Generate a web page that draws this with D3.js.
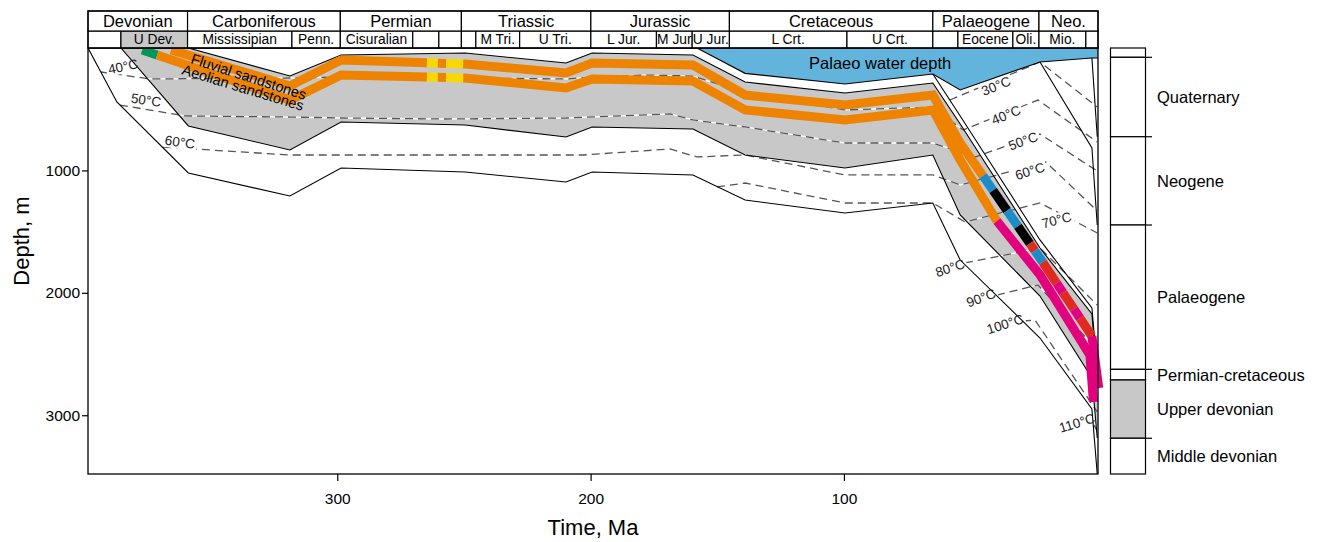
<!DOCTYPE html>
<html><head><meta charset="utf-8">
<script src="https://cdn.jsdelivr.net/npm/d3@7"></script>
<style>
body{margin:0;background:#fff;}
svg{display:block;font-family:"Liberation Sans",Arial,Helvetica,sans-serif;}
</style></head><body>
<svg id="c" width="1320" height="542"></svg>
<script>
// ================= DATA (time in Ma, depth in m) =================
const periods = [["Devonian",398.4,359.1],["Carboniferous",359.1,298.8],["Permian",298.8,251.0],
  ["Triassic",251.0,199.9],["Jurassic",199.9,145.2],["Cretaceous",145.2,64.9],
  ["Palaeogene",64.9,23.0],["Neo.",23.0,-0.3]];
const epochs = [["",398.4,385.4],["U Dev.",385.4,359.1],["Mississipian",359.1,317.9],["Penn.",317.9,298.8],
  ["Cisuralian",298.8,270.2],["",270.2,259.9],["",259.9,251.0],["",251.0,245.3],["M Tri.",245.3,228.0],
  ["U Tri.",228.0,199.9],["L Jur.",199.9,174.0],["M Jur",174.0,159.9],["U Jur.",159.9,145.2],
  ["L Crt.",145.2,98.8],["U Crt.",98.8,64.9],["",64.9,55.0],["Eocene",55.0,33.3],["Oli.",33.3,23.0],
  ["Mio.",23.0,4.5],["",4.5,-0.3]];
const shadedEpochs = ["U Dev."];
const xTicks = [300,200,100];
const yTicks = [1000,2000,3000];

// burial curves [time, depth]
const middleDevonianBase = [[398.4,0],[387.0,441],[358.8,1021],[318.7,1209],[298.5,980],[249.5,1013],[209.7,1095],[199.4,1013],[159.6,1037],[139.0,1242],[99.6,1348],[64.9,1266],[54.1,1732],[22.6,2369],[2.1,2949],[0,3480]];
const upperDevonianBase = [[385.4,0],[358.8,637],[318.7,833],[298.5,605],[249.5,629],[209.7,727],[199.4,645],[159.6,662],[139.0,874],[99.6,980],[64.9,874],[54.1,1364],[22.6,2026],[2.1,2696],[0,3186]];
const upperDevonianTop = [[385.4,0],[358.8,0],[318.7,229],[298.5,57],[249.5,41],[209.7,123],[199.4,41],[159.6,57],[139.0,278],[99.6,368],[64.9,286],[54.1,621],[22.6,1634],[2.1,2173],[0,2712]];
const permCretTop = [[64.9,212],[54.1,555],[22.6,1568],[2.1,2124],[0,2622]];
const palaeogeneTop = [[22.6,114],[2.1,817],[0,1446]];
const neogeneTop = [[2.1,82],[0,725]];
const waterDepth = [[158.0,0],[139.0,207],[99.6,294],[64.9,212],[54.1,343],[22.6,114],[2.1,82],[-0.3,82]];

// isotherms [time, depth]
const iso30 = [[58.2,425],[22.6,114],[0,482]];
const iso40 = [[393.3,196],[373.9,253],[318.7,245],[298.5,237],[249.5,245],[209.7,253],[199.0,237],[177.7,221],[159.6,229],[139.0,368],[99.6,506],[64.9,482],[53.0,670],[23.4,425],[0,768]];
const iso50 = [[385.8,466],[360.1,555],[318.7,564],[298.5,572],[257.4,580],[209.7,572],[168.6,539],[159.6,588],[139.0,645],[99.6,776],[64.9,776],[48.2,890],[22.6,703],[0,1005]];
const iso60 = [[368.8,809],[318.7,874],[257.4,874],[203.0,874],[168.6,825],[158.0,890],[139.0,874],[99.6,1037],[64.9,1037],[54.1,1119],[20.3,931],[0,1331]];
const iso70 = [[150.1,1135],[139.0,1103],[99.6,1266],[64.9,1266],[52.2,1421],[22.6,1266],[0,1511]];
const iso80 = [[52.2,1756],[22.6,1634],[0,2100]];
const iso90 = [[39.6,2018],[23.4,1936],[0,2467]];
const iso100 = [[29.3,2230],[24.6,2222],[0,2973]];
const iso110 = [[1.8,3060],[0,3130]];
const isotherms = [iso30,iso40,iso50,iso60,iso70,iso80,iso90,iso100,iso110];
// isotherm labels [text, time, depth, angle]
const isoLabels = [["40°C",384.6,151,-12],["50°C",375.5,425,8],["60°C",362.1,768,8],
  ["30°C",40.0,310,-22],["40°C",36.0,547,-22],["50°C",29.3,760,-20],["60°C",26.6,1005,-18],
  ["70°C",16.0,1405,-15],["80°C",58.1,1797,-18],["90°C",45.9,2042,-20],["100°C",36.4,2255,-18],["110°C",8.0,3063,-17]];

// sandstone well tracks [time, depth]
const fluvialTrack = [[365.6,16],[318.7,310],[298.5,98],[249.5,131],[209.7,204],[199.4,123],[159.6,139],[139.0,384],[99.6,466],[64.9,384],[54.1,776],[22.6,1716],[2.1,2353],[-0.6,2778]];
const aeolianTrack = [[377.0,16],[318.7,425],[298.5,221],[249.5,245],[209.7,327],[199.4,253],[159.6,270],[139.0,506],[99.6,588],[64.9,506],[54.1,915],[39.6,1413],[22.6,1854],[2.9,2508],[1.5,2892]];
// colour intervals along tracks [from Ma, to Ma, colour key]
const fluvialColours = [[365.6,264.6,"or"],[264.6,260.3,"ye"],[260.3,257.0,"or"],[257.0,250.3,"ye"],[250.3,45.1,"or"],
  [45.1,41.1,"bl"],[41.1,35.6,"bk"],[35.6,31.3,"bl"],[31.3,26.6,"bk"],[26.6,24.6,"rd"],[24.6,21.5,"bl"],
  [21.5,16.0,"rd"],[16.0,13.5,"mg"],[13.5,9.2,"rd"],[9.2,6.8,"mg"],[6.8,2.1,"rd"],[2.1,-0.6,"mg"]];
const aeolianColours = [[377.0,371.1,"gr"],[371.1,264.6,"or"],[264.6,260.3,"ye"],[260.3,257.0,"or"],[257.0,250.3,"ye"],
  [250.3,39.6,"or"],[39.6,1.5,"mg"]];

// stratigraphic column
const stratNames = ["","Quaternary","Neogene","Palaeogene","Permian-cretaceous","Upper devonian","Middle devonian"];
const stratBounds = [0,76,725,1446,2625,2712,3188,3480];

// ================= STYLE =================
const C = {gray:"#c8c8c8", water:"#63b4dc", or:"#ee8300", ye:"#f7d900", gr:"#00975a", bl:"#1b8cc8",
  bk:"#000000", rd:"#df2b1f", mg:"#e3007f", iso:"#555555"};

const svg = d3.select("#c");
const x = d3.scaleLinear().domain([398.4,-0.3]).range([88,1098]);
const y = d3.scaleLinear().domain([0,3480]).range([48,474]);
const line = d3.line().x(p=>x(p[0])).y(p=>y(p[1]));
const FONT = '"Liberation Sans",Arial,sans-serif';

const defs = svg.append("defs");
defs.append("clipPath").attr("id","plotClip").append("rect")
  .attr("x",88).attr("y",48).attr("width",1022).attr("height",426);

const plot = svg.append("g").attr("clip-path","url(#plotClip)");

// Upper Devonian (gray) polygon
const udPoly = upperDevonianTop.concat(upperDevonianBase.slice().reverse());
plot.append("path").attr("d",line(udPoly)+"Z").attr("fill",C.gray).attr("stroke","none");

// water polygon
const wPoly = waterDepth.concat([[waterDepth[waterDepth.length-1][0],0],[waterDepth[0][0],0]]);
plot.append("path").attr("d",line(wPoly)+"Z").attr("fill",C.water).attr("stroke","none");

// isotherms with label gaps (mask)
const mask = defs.append("mask").attr("id","isoMask").attr("maskUnits","userSpaceOnUse")
  .attr("x",0).attr("y",0).attr("width",1320).attr("height",542);
mask.append("rect").attr("width",1320).attr("height",542).attr("fill","#fff");
const isoG = plot.append("g").attr("mask","url(#isoMask)");
isotherms.forEach(p=>{
  isoG.append("path").attr("d",line(p)).attr("fill","none").attr("stroke","#fff").attr("stroke-width",1.3);
  isoG.append("path").attr("d",line(p)).attr("fill","none").attr("stroke",C.iso)
    .attr("stroke-width",1.3).attr("stroke-dasharray","8,5");
});

// solid boundaries
[middleDevonianBase, upperDevonianBase, upperDevonianTop.slice(1), permCretTop, palaeogeneTop, neogeneTop, waterDepth]
  .forEach(p=>plot.append("path").attr("d",line(p)).attr("fill","none").attr("stroke","#000").attr("stroke-width",1.1));

// well tracks
function interp(path,t){
  for(let i=0;i<path.length-1;i++){
    const [t0,d0]=path[i],[t1,d1]=path[i+1];
    if(t<=t0 && t>=t1){const f=(t0-t)/(t0-t1);return [t,d0+f*(d1-d0)];}
  }
  return path[path.length-1];
}
function sub(path,ta,tb){
  const pts=[interp(path,ta)];
  path.forEach(p=>{if(p[0]<ta && p[0]>tb)pts.push(p);});
  pts.push(interp(path,tb));
  return pts;
}
[[aeolianTrack,aeolianColours],[fluvialTrack,fluvialColours]].forEach(([trk,cols])=>{
  cols.forEach(([a,b,k])=>{
    plot.append("path").attr("d",line(sub(trk,a,b))).attr("fill","none").attr("stroke",C[k])
      .attr("stroke-width",9).attr("stroke-linecap","butt").attr("stroke-linejoin","miter").attr("stroke-miterlimit",3);
  });
});

// text annotations in plot
const ann = svg.append("g").attr("font-family",FONT);
function rotText(t,d,txt,ang,size,anchor){
  return ann.append("text").attr("transform",`translate(${x(t)},${y(d)}) rotate(${ang})`)
    .attr("text-anchor",anchor||"start").attr("font-size",size).attr("fill","#000").text(txt);
}
rotText(358.1,122,"Fluvial sandstones",18,14.5);
rotText(361.7,212,"Aeolian sandstones",17,14.5);
ann.append("text").attr("x",x(85.7)).attr("y",y(122)).attr("dy","0.35em").attr("text-anchor","middle")
  .attr("font-size",16.5).text("Palaeo water depth");

isoLabels.forEach(([txt,t,d,ang])=>{
  const tx = ann.append("text").attr("transform",`translate(${x(t)},${y(d)}) rotate(${ang})`)
    .attr("text-anchor","middle").attr("dy","0.35em").attr("font-size",13.5).attr("fill","#222").text(txt);
  const w = tx.node().getComputedTextLength();
  mask.append("rect").attr("transform",`translate(${x(t)},${y(d)}) rotate(${ang})`)
    .attr("x",-w/2-2).attr("y",-7).attr("width",w+4).attr("height",14).attr("fill","#000");
});

// plot frame
svg.append("rect").attr("x",88).attr("y",48).attr("width",1010).attr("height",426)
  .attr("fill","none").attr("stroke","#000").attr("stroke-width",1.3);

// header
const hdr = svg.append("g").attr("font-family",FONT);
const hTop=11, hMid=31, hBot=48;
epochs.forEach(([n,a,b])=>{
  hdr.append("rect").attr("x",x(a)).attr("y",hMid).attr("width",x(b)-x(a)).attr("height",hBot-hMid)
    .attr("fill",shadedEpochs.includes(n)?C.gray:"#fff").attr("stroke","#000").attr("stroke-width",1.2);
  if(n) hdr.append("text").attr("x",(x(a)+x(b))/2).attr("y",(hMid+hBot)/2).attr("dy","0.36em")
    .attr("text-anchor","middle").attr("font-size",13.8).text(n);
});
periods.forEach(([n,a,b])=>{
  hdr.append("rect").attr("x",x(a)).attr("y",hTop).attr("width",x(b)-x(a)).attr("height",hMid-hTop)
    .attr("fill","#fff").attr("stroke","#000").attr("stroke-width",1.2);
  hdr.append("text").attr("x",(x(a)+x(b))/2).attr("y",(hTop+hMid)/2).attr("dy","0.36em")
    .attr("text-anchor","middle").attr("font-size",16.5).text(n);
});
hdr.append("rect").attr("x",88).attr("y",hTop).attr("width",1010).attr("height",hBot-hTop)
  .attr("fill","none").attr("stroke","#000").attr("stroke-width",1.3);

// axes
const xa = svg.append("g").attr("transform","translate(0,474)")
  .call(d3.axisBottom(x).tickValues(xTicks).tickSize(7).tickPadding(12).tickFormat(d3.format("d")));
xa.select(".domain").remove();
xa.selectAll("text").attr("font-size",15.5).attr("font-family",FONT).attr("fill","#000");
xa.selectAll("line").attr("stroke","#000").attr("stroke-width",1.2);
const ya = svg.append("g").attr("transform","translate(88,0)")
  .call(d3.axisLeft(y).tickValues(yTicks).tickSize(6).tickPadding(2).tickFormat(d3.format("d")));
ya.select(".domain").remove();
ya.selectAll("text").attr("font-size",15.5).attr("font-family",FONT).attr("fill","#000");
ya.selectAll("line").attr("stroke","#000").attr("stroke-width",1.2);

svg.append("text").attr("x",593).attr("y",535).attr("text-anchor","middle").attr("font-family",FONT)
  .attr("font-size",22).text("Time, Ma");
svg.append("text").attr("transform","translate(29,241) rotate(-90)").attr("text-anchor","middle")
  .attr("font-family",FONT).attr("font-size",22).text("Depth, m");

// stratigraphic column
const col = svg.append("g").attr("font-family",FONT);
stratNames.forEach((n,i)=>{
  const y0=y(stratBounds[i]), y1=y(stratBounds[i+1]);
  col.append("rect").attr("x",1110.5).attr("y",y0).attr("width",35).attr("height",y1-y0)
    .attr("fill",n==="Upper devonian"?C.gray:"#fff").attr("stroke","#000").attr("stroke-width",1.2);
  if(n) col.append("text").attr("x",1157).attr("y",(y0+y1)/2).attr("dy","0.36em")
    .attr("font-size",16.5).text(n);
});
[1,2,3,4,6].forEach(i=>{
  col.append("line").attr("x1",1145.5).attr("x2",1152).attr("y1",y(stratBounds[i])).attr("y2",y(stratBounds[i]))
    .attr("stroke","#000").attr("stroke-width",1.2);
});
</script>
</body></html>
